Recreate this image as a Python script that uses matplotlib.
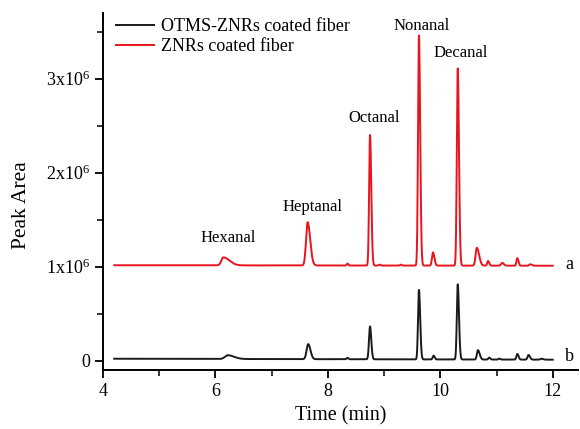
import numpy as np
import matplotlib
matplotlib.use("Agg")
import matplotlib.pyplot as plt
from matplotlib.ticker import MultipleLocator, FixedLocator

plt.rcParams["font.family"] = ["Liberation Serif", "DejaVu Serif"]
plt.rcParams["mathtext.fontset"] = "custom"
plt.rcParams["mathtext.rm"] = "Liberation Serif"
plt.rcParams["mathtext.it"] = "Liberation Serif:italic"

# Retention times (min), peak heights above baseline and left/right widths (min)
rt_a = [6.14, 7.64, 8.35, 8.75, 8.92, 9.30, 9.62, 9.87, 10.31, 10.65, 10.85, 11.10, 11.37, 11.60]
h_a = [0.085e6, 0.46e6, 0.02e6, 1.39e6, 0.01e6, 0.01e6, 2.45e6, 0.14e6, 2.10e6, 0.19e6, 0.05e6, 0.03e6, 0.08e6, 0.015e6]
wl_a = [0.035, 0.028, 0.015, 0.016, 0.015, 0.015, 0.016, 0.018, 0.016, 0.022, 0.015, 0.02, 0.015, 0.02]
wr_a = [0.110, 0.045, 0.015, 0.022, 0.015, 0.015, 0.022, 0.025, 0.022, 0.040, 0.020, 0.03, 0.020, 0.03]

rt_b = [6.22, 7.65, 8.35, 8.75, 9.62, 9.88, 10.31, 10.67, 10.87, 11.05, 11.37, 11.57, 11.80]
h_b = [0.04e6, 0.16e6, 0.015e6, 0.35e6, 0.74e6, 0.04e6, 0.80e6, 0.10e6, 0.02e6, 0.01e6, 0.06e6, 0.05e6, 0.01e6]
wl_b = [0.050, 0.028, 0.015, 0.018, 0.016, 0.015, 0.016, 0.018, 0.015, 0.015, 0.016, 0.018, 0.02]
wr_b = [0.110, 0.040, 0.015, 0.022, 0.022, 0.020, 0.022, 0.030, 0.020, 0.020, 0.022, 0.025, 0.03]

# Baseline levels at run start and end
base_a = [1.015e6, 1.010e6]
base_b = [0.020e6, 0.010e6]
t_range = [4.2, 12.0]

compounds = ["Hexanal", "Heptanal", "Octanal", "Nonanal", "Decanal"]
label_x = [6.22, 7.73, 8.82, 9.67, 10.37]
label_y = [1.30e6, 1.64e6, 2.58e6, 3.56e6, 3.27e6]

yticks = [0, 1e6, 2e6, 3e6]
yticklabels = ["0", r"1x10$^{6}$", r"2x10$^{6}$", r"3x10$^{6}$"]
xticks = [4, 6, 8, 10, 12]


def trace(rts, hs, wls, wrs, base):
    t = np.linspace(t_range[0], t_range[1], 4000)
    y = np.interp(t, t_range, base)
    for r, h, wl, wr in zip(rts, hs, wls, wrs):
        w = np.where(t < r, wl, wr)
        y = y + h * np.exp(-0.5 * ((t - r) / w) ** 2)
    return t, y


fig = plt.figure(figsize=(5.8, 4.29), dpi=100)
ax = fig.add_axes([0.1776, 0.1375, 0.819, 0.8322])

tb, yb = trace(rt_b, h_b, wl_b, wr_b, base_b)
ta, ya = trace(rt_a, h_a, wl_a, wr_a, base_a)
ax.plot(tb, yb, color="#1a1a1a", lw=1.4, label="OTMS-ZNRs coated fiber")
ax.plot(ta, ya, color="#e8141e", lw=1.4, label="ZNRs coated fiber")

for name, x, y in zip(compounds, label_x, label_y):
    ax.text(x, y, name, ha="center", va="center", fontsize=12)

ax.text(12.3, 1.02e6, "a", ha="center", va="center", fontsize=13)
ax.text(12.3, 0.04e6, "b", ha="center", va="center", fontsize=13)

ax.set_xlim(4, 12.45)
ax.set_ylim(-0.1e6, 3.7e6)
ax.xaxis.set_major_locator(FixedLocator(xticks))
ax.xaxis.set_minor_locator(MultipleLocator(1))
ax.yaxis.set_major_locator(FixedLocator(yticks))
ax.yaxis.set_minor_locator(MultipleLocator(0.5e6))
ax.set_yticklabels(yticklabels)

for s in ["top", "right"]:
    ax.spines[s].set_visible(False)
for s in ["left", "bottom"]:
    ax.spines[s].set_linewidth(1.4)
ax.tick_params(which="major", direction="out", length=6, width=1.3, labelsize=13)
ax.tick_params(which="minor", direction="out", length=4, width=1.1)

ax.set_xlabel("Time (min)", fontsize=14.5, labelpad=4)
ax.set_ylabel("Peak Area", fontsize=15.5)
ax.yaxis.set_label_coords(-0.152, 0.462)

ax.legend(loc="upper left", bbox_to_anchor=(0.0, 1.02), frameon=False, fontsize=13,
          handlelength=2.1, handletextpad=0.4, labelspacing=0.15, borderaxespad=0.3)

fig.savefig("out.png", dpi=100)
